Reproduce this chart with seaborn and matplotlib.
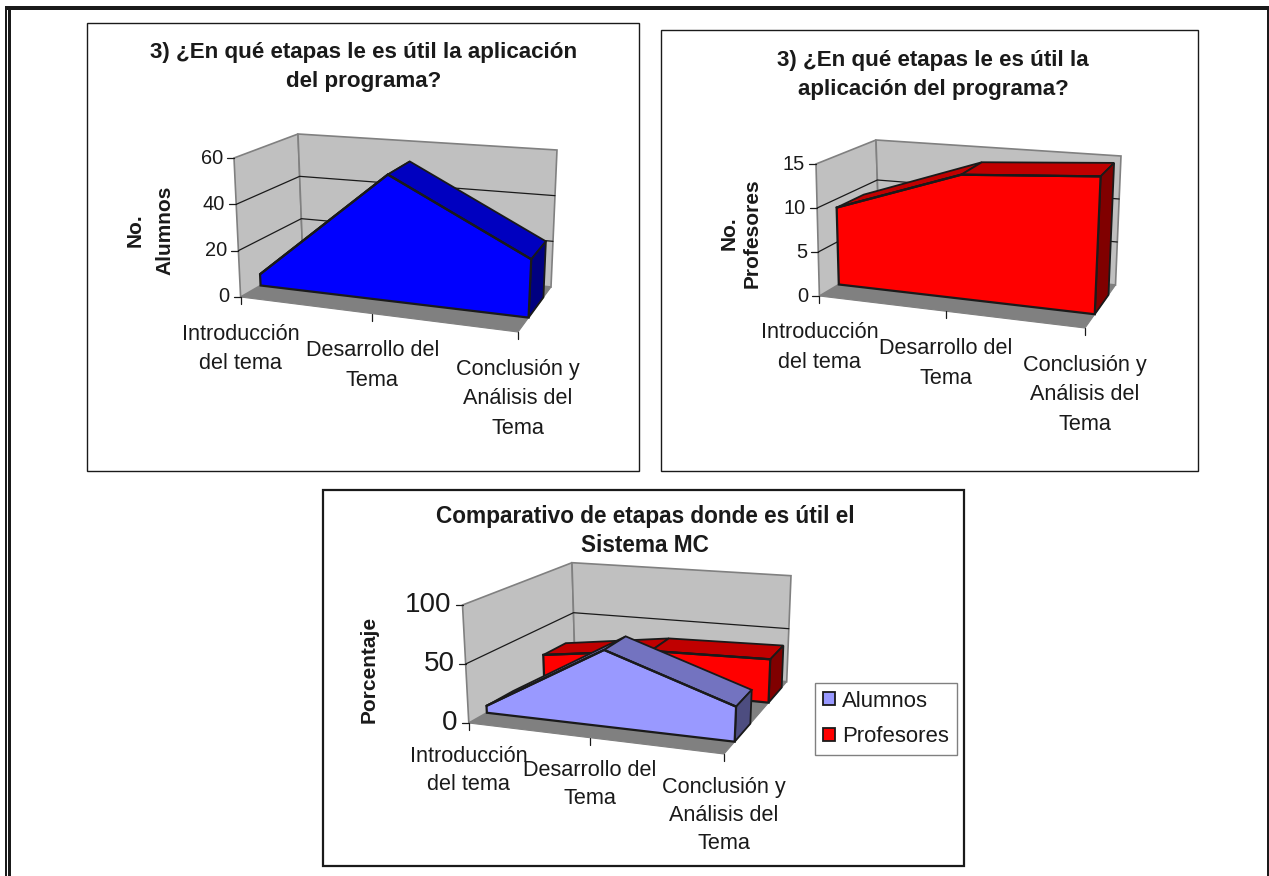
# -*- coding: utf-8 -*-
import numpy as np
import seaborn as sns
import matplotlib.pyplot as plt
from matplotlib.patches import Rectangle, Patch

# data
etapas = ["Introducción\ndel tema", "Desarrollo del\nTema", "Conclusión y\nAnálisis del\nTema"]
alumnos = [5, 54, 24]
profesores = [9, 14, 15]
alumnos_pct = [6, 65, 29]
profesores_pct = [24, 37, 39]
ticks_alumnos = [0, 20, 40, 60]
ticks_profesores = [0, 5, 10, 15]
ticks_pct = [0, 50, 100]

sns.set_theme(style="white")
plt.rcParams['font.family'] = ['Liberation Sans', 'DejaVu Sans']

AZUL = ["#0000FF", "#0000C0", "#000080"]
ROJO = ["#FF0000", "#C00000", "#800000"]
LILA = ["#9999FF", "#7373C0", "#4D4D80"]

# corners of the 3d box in pixels: front left, front right, back left, back right
box1 = dict(bottom=[(240.6, 297), (518, 332), (303, 261), (551, 287)],
            top=[(234, 158), (525, 182), (298, 134), (557, 150)])
box2 = dict(bottom=[(819.4, 296), (1085, 328), (880, 260), (1115.5, 285)],
            top=[(816, 164), (1091, 186), (876, 140), (1121, 156)])
box3 = dict(bottom=[(468.8, 723), (724, 754), (575, 662.7), (786.7, 681.7)],
            top=[(462.5, 605), (729, 630), (572, 562.7), (791, 575.7)])

# where the 3 categories sit along the floor, perspective pulls the middle one left
CAT_POS = [0, 0.475, 1]


def project(box, x, y, d):
    pts = []
    for c in (box['bottom'], box['top']):
        c = np.array(c, dtype=float)
        front = c[0] + (c[1] - c[0]) * x
        back = c[2] + (c[3] - c[2]) * x
        pts.append(front + (back - front) * d)
    return pts[0] + (pts[1] - pts[0]) * y


def line(ax, pts, color='k', lw=1.0):
    pts = np.array(pts)
    # same zorder as the fills so they paint over in drawing order
    sns.lineplot(x=pts[:, 0], y=pts[:, 1], ax=ax, color=color, linewidth=lw,
                 sort=False, estimator=None, legend=False, zorder=1)


def walls(ax, box, ticks, ymax, tick_size):
    p = lambda x, y, d: project(box, x, y, d)
    ax.fill(*zip(p(0, 0, 0), p(0, 0, 1), p(1, 0, 1), p(1, 0, 0)), fc="#808080", ec="#808080", lw=0.8)
    ax.fill(*zip(p(0, 0, 0), p(0, 1, 0), p(0, 1, 1), p(0, 0, 1)), fc="#C0C0C0", ec="#808080", lw=1.2)
    ax.fill(*zip(p(0, 0, 1), p(0, 1, 1), p(1, 1, 1), p(1, 0, 1)), fc="#C0C0C0", ec="#808080", lw=1.2)
    for t in ticks:
        f = t / ymax
        if 0 < f < 1:
            line(ax, [p(0, f, 0), p(0, f, 1), p(1, f, 1)], lw=0.9)
        a = p(0, f, 0)
        line(ax, [a, a - np.array([7, 0])], lw=0.9)
        ax.text(a[0] - 11, a[1], str(t), ha='right', va='center', fontsize=tick_size, color='k')


def xaxis(ax, box, labels, off=26.5, spacing=1.55):
    for x, lab in zip(CAT_POS, labels):
        a = project(box, x, 0, 0)
        line(ax, [a, a + np.array([0, 7])], lw=0.9)
        ax.text(a[0], a[1] + off, lab, ha='center', va='top', fontsize=15.6, color='k', linespacing=spacing)


def area(ax, box, values, ymax, d0, d1, cols):
    n = len(values)
    v = np.array(values) / ymax
    front_top = [project(box, x, y, d0) for x, y in zip(CAT_POS, v)]
    back_top = [project(box, x, y, d1) for x, y in zip(CAT_POS, v)]
    for i in range(n - 1):
        q = [front_top[i], front_top[i + 1], back_top[i + 1], back_top[i]]
        ax.fill(*zip(*q), fc=cols[1], ec='k', lw=1.3)
    side = [project(box, 1, 0, d0), front_top[-1], back_top[-1], project(box, 1, 0, d1)]
    ax.fill(*zip(*side), fc=cols[2], ec='k', lw=1.3)
    front = [project(box, 0, 0, d0)] + front_top + [project(box, 1, 0, d0)]
    ax.fill(*zip(*front), fc=cols[0], ec='k', lw=1.6)
    line(ax, front_top, lw=1.6)


fig = plt.figure(figsize=(12.69, 8.76), dpi=100, facecolor='white')
ax = fig.add_axes([0, 0, 1, 1])
ax.set_axis_off()

# page border
ax.add_patch(Rectangle((5, 6), 1264, 4, fc='k', ec='none'))
ax.add_patch(Rectangle((5, 6), 1.5, 870, fc='k', ec='none'))
ax.add_patch(Rectangle((8, 9), 2.5, 867, fc='k', ec='none'))
ax.add_patch(Rectangle((1267, 6), 2, 870, fc='k', ec='none'))

# chart frames
ax.add_patch(Rectangle((87, 23), 552, 448, fc='white', ec='k', lw=1.0))
ax.add_patch(Rectangle((661, 30), 537, 441, fc='white', ec='k', lw=1.0))
ax.add_patch(Rectangle((323, 490), 641, 376, fc='white', ec='k', lw=1.6))

# chart 1
walls(ax, box1, ticks_alumnos, 60, 14.4)
area(ax, box1, alumnos, 60, 0.32, 0.77, AZUL)
xaxis(ax, box1, etapas)
ax.text(364, 67, "3) ¿En qué etapas le es útil la aplicación\ndel programa?", ha='center', va='center',
        fontsize=16.1, fontweight='bold', linespacing=1.52, color='k')
ax.text(150, 230, "No.\nAlumnos", rotation=90, ha='center', va='center', fontsize=15,
        fontweight='bold', color='k', linespacing=1.7)

# chart 2
walls(ax, box2, ticks_profesores, 15, 14.4)
area(ax, box2, profesores, 15, 0.32, 0.77, ROJO)
xaxis(ax, box2, etapas)
ax.text(933, 74.7, "3) ¿En qué etapas le es útil la\naplicación del programa?", ha='center', va='center',
        fontsize=16.1, fontweight='bold', linespacing=1.52, color='k')
ax.text(741, 233, "No.\nProfesores", rotation=90, ha='center', va='center', fontsize=15,
        fontweight='bold', color='k', linespacing=1.25)

# chart 3
walls(ax, box3, ticks_pct, 100, 20)
area(ax, box3, profesores_pct, 100, 0.71, 0.92, ROJO)
area(ax, box3, alumnos_pct, 100, 0.17, 0.42, LILA)
xaxis(ax, box3, etapas, off=22.5, spacing=1.45)
ax.text(645, 531, "Comparativo de etapas donde es útil el\nSistema MC", ha='center', va='center',
        fontsize=16.3, fontweight='bold', linespacing=1.3, color='k')
ax.text(369, 669, "Porcentaje", rotation=90, ha='center', va='center', fontsize=15,
        fontweight='bold', color='k')

handles = [Patch(fc=LILA[0], ec='k', lw=1.3, label="Alumnos"),
           Patch(fc=ROJO[0], ec='k', lw=1.3, label="Profesores")]
leg = ax.legend(handles=handles, loc='upper left', bbox_to_anchor=(814.6, 682.7),
                bbox_transform=ax.transData, fontsize=15.9, frameon=True, fancybox=False,
                edgecolor="#808080", facecolor='white', framealpha=1, handlelength=0.55,
                handleheight=0.55, handletextpad=0.34, labelspacing=0.65, borderpad=0.36,
                borderaxespad=0, labelcolor='k')
leg.get_frame().set_linewidth(1.0)

ax.set_xlim(0, 1269)
ax.set_ylim(876, 0)
fig.savefig("out.png", dpi=100)
